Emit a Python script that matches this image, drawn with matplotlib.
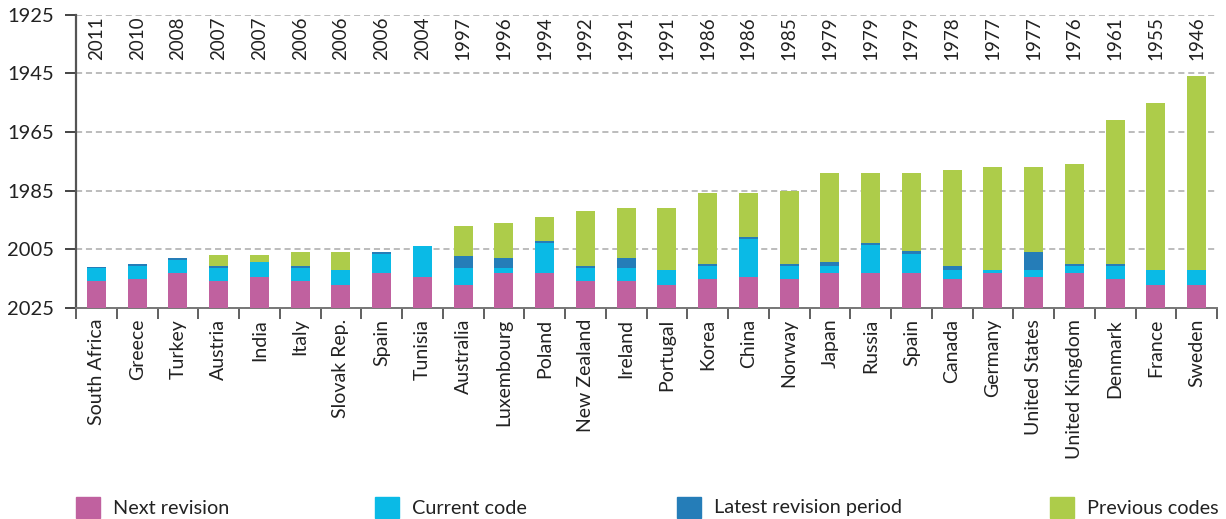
import matplotlib
matplotlib.use("Agg")
import matplotlib.pyplot as plt
from matplotlib.patches import Rectangle
import numpy as np

plt.rcParams["font.family"] = ["Lato", "DejaVu Sans"]

countries = ["South Africa", "Greece", "Turkey", "Austria", "India", "Italy", "Slovak Rep.",
             "Spain", "Tunisia", "Australia", "Luxembourg", "Poland", "New Zealand", "Ireland",
             "Portugal", "Korea", "China", "Norway", "Japan", "Russia", "Spain", "Canada",
             "Germany", "United States", "United Kingdom", "Denmark", "France", "Sweden"]
# year of first code (top of each bar)
first_code = [2011, 2010, 2008, 2007, 2007, 2006, 2006, 2006, 2004, 1997, 1996, 1994, 1992, 1991,
              1991, 1986, 1986, 1985, 1979, 1979, 1979, 1978, 1977, 1977, 1976, 1961, 1955, 1946]
# start of latest revision period (end of previous codes)
latest_start = [2011, 2010, 2008, 2010.8, 2009.4, 2010.8, 2012.1, 2006, 2004, 2007.4, 2008.0,
                2002.2, 2010.8, 2008.0, 2012.1, 2010.1, 2000.9, 2010.1, 2009.4, 2002.9, 2005.7,
                2010.8, 2012.1, 2006.0, 2010.1, 2010.1, 2012.1, 2012.1]
# start of current code
current_start = [2011.5, 2010.8, 2008.7, 2011.5, 2009.4, 2011.5, 2012.1, 2006.7, 2004, 2011.5,
                 2011.5, 2002.9, 2011.5, 2011.5, 2012.1, 2010.8, 2001.6, 2010.8, 2010.8, 2003.6,
                 2006.7, 2012.1, 2012.1, 2012.1, 2010.8, 2010.8, 2012.1, 2012.1]
# start of next revision
next_start = [2015.9, 2015.2, 2013.2, 2015.9, 2014.5, 2015.9, 2017.3, 2013.2, 2014.5, 2017.3,
              2013.2, 2013.2, 2015.9, 2015.9, 2017.3, 2015.2, 2014.5, 2015.2, 2013.2, 2013.2,
              2013.2, 2015.2, 2013.2, 2014.5, 2013.2, 2015.2, 2017.3, 2017.3]
END_YEAR = 2025

COLORS = {"Next revision": "#C0619F", "Current code": "#0ABAE6",
          "Latest revision period": "#257DB8", "Previous codes": "#ADCC4A"}

fig = plt.figure(figsize=(12.26, 5.19), dpi=100)
ax = fig.add_axes([76 / 1226, 1 - 307.7 / 519, (1217 - 76) / 1226, 293 / 519])

x = np.arange(len(countries))
w = 0.47
fc = np.array(first_code, float)
ls = np.array(latest_start, float)
cs = np.array(current_start, float)
ns = np.array(next_start, float)

ax.bar(x, ls - fc, w, bottom=fc, color=COLORS["Previous codes"], zorder=3)
ax.bar(x, cs - ls, w, bottom=ls, color=COLORS["Latest revision period"], zorder=3)
ax.bar(x, ns - cs, w, bottom=cs, color=COLORS["Current code"], zorder=3)
ax.bar(x, END_YEAR - ns, w, bottom=ns, color=COLORS["Next revision"], zorder=3)

ax.set_xlim(-0.5, len(countries) - 0.5)
ax.set_ylim(2025, 1925)
ax.set_yticks(np.arange(1925, 2026, 20))
ax.tick_params(axis="y", length=8, width=1.4, color="#444", pad=8, labelsize=14.5,
               labelcolor="#222")
ax.yaxis.grid(True, color="#AAAAAA", lw=1.1, ls=(0, (4, 2.5)), zorder=0)

ax.set_xticks(x)
ax.set_xticklabels(countries, rotation=90, fontsize=14, color="#222")
ax.tick_params(axis="x", length=0, pad=8)
ax.set_xticks(np.arange(-0.5, len(countries), 1), minor=True)
ax.tick_params(axis="x", which="minor", length=8, width=1.2, color="#444")

for s in ("top", "right"):
    ax.spines[s].set_visible(False)
ax.spines["left"].set_color("#555")
ax.spines["left"].set_linewidth(1.6)
ax.spines["bottom"].set_color("#777")
ax.spines["bottom"].set_linewidth(1.4)

for xi, yr in zip(x, first_code):
    ax.text(xi, 1940.5, str(yr), rotation=90, ha="center", va="bottom", fontsize=13.5,
            color="#222")

# legend row
legend_x = [76, 375, 677, 1050]
for lx, (name, col) in zip(legend_x, COLORS.items()):
    fig.add_artist(Rectangle((lx / 1226, 1 - 518 / 519), 24 / 1226, 21 / 519,
                             transform=fig.transFigure, color=col))
    fig.text((lx + 37) / 1226, 1 - 508 / 519, name, fontsize=14.3, va="center", ha="left",
             color="#222")

fig.savefig("out.png", dpi=100, facecolor="white")
